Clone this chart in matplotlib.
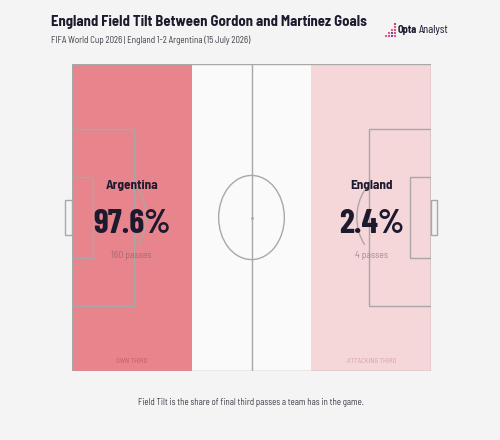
import matplotlib
matplotlib.use("Agg")
import matplotlib.pyplot as plt
from matplotlib.patches import Rectangle, Ellipse, Arc

# ---- data ----
teams = ["Argentina", "England"]
shares = [97.6, 2.4]
passes = [160, 4]
zone_labels = ["OWN THIRD", "ATTACKING THIRD"]
zone_bounds = [(0, 33.3), (66.7, 100)]
title = "England Field Tilt Between Gordon and Martínez Goals"
subtitle = "FIFA World Cup 2026 | England 1-2 Argentina (15 July 2026)"
footer = "Field Tilt is the share of final third passes a team has in the game."

BG = "#f4f4f4"
PITCH = "#fafafa"
LINE = "#a8a8a8"
DARK = "#1e1a2e"
zone_colors = ["#e8848b", "#f5d6d9"]
zone_text = ["#c45c66", "#d4a2a9"]
pass_colors = ["#a06a73", "#a08a90"]
COND = ["Barlow Semi Condensed", "DejaVu Sans"]
BAR = ["Barlow Condensed", "DejaVu Sans"]

fig = plt.figure(figsize=(5, 4.4), dpi=100, facecolor=BG)
ax = fig.add_axes([0.144, 0.1568, 0.718, 0.6977])
ax.set_xlim(0, 100)
ax.set_ylim(0, 100)
ax.axis("off")

# pitch background
ax.add_patch(Rectangle((0, 0), 100, 100, facecolor=PITCH, edgecolor="none", zorder=0))
# zones
for (x0, x1), c in zip(zone_bounds, zone_colors):
    ax.add_patch(Rectangle((x0, 0), x1 - x0, 100, facecolor=c, edgecolor="none", zorder=1))

lw = 1.0
kw = dict(facecolor="none", edgecolor=LINE, lw=lw, zorder=2)
ax.add_patch(Rectangle((0, 0), 100, 100, **kw))
ax.plot([50, 50], [0, 100], color=LINE, lw=lw, zorder=2)
ax.add_patch(Ellipse((50, 50), 18.3, 27.4, **kw))
ax.plot([50], [50], marker="o", ms=1, color=LINE, zorder=2)
# penalty boxes
ax.add_patch(Rectangle((0, 21.1), 17.2, 57.8, **kw))
ax.add_patch(Rectangle((100 - 17.2, 21.1), 17.2, 57.8, **kw))
ax.add_patch(Rectangle((0, 36.8), 5.8, 26.4, **kw))
ax.add_patch(Rectangle((100 - 5.8, 36.8), 5.8, 26.4, **kw))
# goals
ax.add_patch(Rectangle((-2.0, 44.2), 2.0, 11.6, clip_on=False, **kw))
ax.add_patch(Rectangle((100, 44.2), 1.8, 11.6, clip_on=False, **kw))
# penalty arcs
ax.add_patch(Arc((11.5, 50), 18.3, 27.4, theta1=-52, theta2=52, edgecolor=LINE, lw=lw, zorder=2))
ax.add_patch(Arc((88.5, 50), 18.3, 27.4, theta1=128, theta2=232, edgecolor=LINE, lw=lw, zorder=2))

# team texts
centers = [16.6, 83.4]
for cx, t, s, p, pc in zip(centers, teams, shares, passes, pass_colors):
    ax.text(cx, 60.5, t, ha="center", va="center", fontsize=9.5, fontweight="bold",
            color=DARK, family=COND, zorder=3)
    ax.text(cx, 48.0, f"{s}%", ha="center", va="center", fontsize=24.5, fontweight="bold",
            color=DARK, family=BAR, zorder=3)
    ax.text(cx, 37.5, f"{p} passes", ha="center", va="center", fontsize=7,
            color=pc, family=COND, zorder=3)

for (x0, x1), lab, c in zip(zone_bounds, zone_labels, zone_text):
    ax.text((x0 + x1) / 2, 3.0, lab, ha="center", va="center", fontsize=5,
            color=c, family=COND, zorder=3)

# titles
fig.text(51 / 500, 1 - 22 / 440, title, ha="left", va="center", fontsize=10.6,
         fontweight="bold", color=DARK, family=COND)
fig.text(51 / 500, 1 - 40 / 440, subtitle, ha="left", va="center", fontsize=6.45,
         color="#3a3a44", family=COND)
fig.text(251 / 500, 1 - 402 / 440, footer, ha="center", va="center", fontsize=6.4,
         color="#3a3a44", family=COND)

# logo
fig.text(397.5 / 500, 1 - 30 / 440, "Opta", ha="left", va="center", fontsize=7.5,
         fontweight="bold", color=DARK, family=COND)
fig.text(419 / 500, 1 - 30 / 440, "Analyst", ha="left", va="center", fontsize=8.8,
         color=DARK, family=BAR)
dots = [(386, 36), (389, 36), (392, 36), (395, 36), (389, 33), (392, 33), (395, 33),
        (392, 30), (395, 30), (395, 27), (395, 24)]
cols = ["#e04a7a", "#d33a6e", "#6a3a78", "#e04a7a", "#e04a7a", "#6a3a78", "#d33a6e",
        "#e04a7a", "#d33a6e", "#e04a7a", "#c02a5e"]
for (dx, dy), c in zip(dots, cols):
    fig.patches.append(Ellipse((dx / 500, 1 - dy / 440), 2.2 / 500, 2.2 / 440,
                               transform=fig.transFigure, facecolor=c, edgecolor="none"))

fig.savefig("out.png", dpi=100, facecolor=BG)
